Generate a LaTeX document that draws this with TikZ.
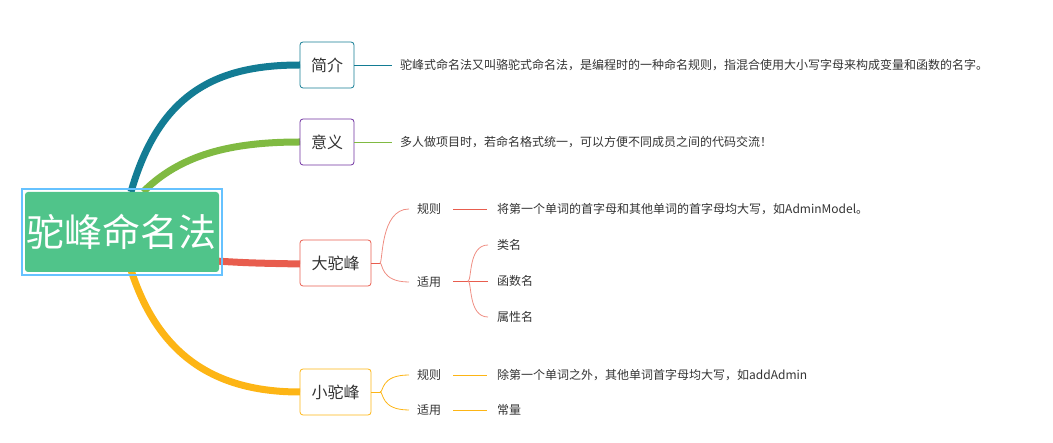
\documentclass[tikz,border=0pt]{standalone}
\usepackage{fontspec}
\setmainfont{Noto Sans CJK SC}
\definecolor{teal1}{HTML}{137C94}
\definecolor{grn}{HTML}{80BA42}
\definecolor{pur}{HTML}{6E2FA0}
\definecolor{red1}{HTML}{E85D4E}
\definecolor{yel}{HTML}{FDB515}
\definecolor{cgreen}{HTML}{50C48A}
\definecolor{txt}{HTML}{333333}
\begin{document}
\begin{tikzpicture}[x=1pt,y=-1pt,
  box/.style={draw,rounded corners=3pt,minimum height=46pt,font=\fontsize{16}{19}\selectfont,text=txt,line width=0.8pt,inner sep=0pt},
  lbl/.style={anchor=west,font=\fontsize{12}{14}\selectfont,text=txt,inner sep=0pt},
  thick1/.style={line width=7pt},
  thin1/.style={line width=0.8pt}]
\useasboundingbox (0,0) rectangle (1053,443);
% branches (behind)
\coordinate (c1) at (131,192);
\coordinate (c2) at (143,192);
\coordinate (c3) at (131,270);
\draw[thick1,teal1] (c1) .. controls (160,90) and (220,65) .. (300,65);
\draw[thick1,grn] (c2) .. controls (180,155) and (230,142) .. (300,142);
\draw[thick1,yel] (c3) .. controls (160,360) and (220,392) .. (300,392);
\draw[thick1,red1] (215,261) .. controls (250,263) .. (300,264);
% centre
\draw[blue!40!cyan!60,line width=1.2pt] (22,189) rectangle (222,275);
\node[fill=cgreen,rounded corners=3pt,minimum width=194pt,minimum height=80pt,text=white,font=\fontsize{38}{44}\selectfont,inner sep=0pt] (root) at (122,232) {驼峰命名法};
% level 1
\node[box,draw=teal1,minimum width=54pt] (jj) at (327,65) {简介};
\node[box,draw=pur,minimum width=54pt] (yy) at (327,142) {意义};
\node[box,draw=red1,minimum width=71pt] (dt) at (335.5,263) {大驼峰};
\node[box,draw=yel,minimum width=71pt] (xt) at (335.5,392) {小驼峰};
% 简介 / 意义
\node[lbl] (jjt) at (400,65) {驼峰式命名法又叫骆驼式命名法，是编程时的一种命名规则，指混合使用大小写字母来构成变量和函数的名字。};
\node[lbl] (yyt) at (400,142) {多人做项目时，若命名格式统一，可以方便不同成员之间的代码交流！};
\draw[thin1,teal1] (jj.east) -- (392,65);
\draw[thin1,grn] (yy.east) -- (392,142);
% 大驼峰
\node[lbl] (d1) at (417,209) {规则};
\node[lbl] (d2) at (417,282) {适用};
\coordinate (dj) at (380,263);
\draw[thin1,red1] (dt.east) -- (dj);
\draw[thin1,red1!70] (dj) .. controls (383,263) and (380,209) .. (409,209);
\draw[thin1,red1!70] (dj) .. controls (383,263) and (380,282) .. (409,282);
\node[lbl] (d1t) at (497,209) {将第一个单词的首字母和其他单词的首字母均大写，如AdminModel。};
\draw[thin1,red1] (453,209) -- (487,209);
\node[lbl] (e1) at (497,245) {类名};
\node[lbl] (e2) at (497,281) {函数名};
\node[lbl] (e3) at (497,317) {属性名};
\coordinate (ej) at (468,281);
\draw[thin1,red1] (453,281) -- (488,281);
\draw[thin1,red1!70] (ej) .. controls (472,281) and (468,245) .. (488,245);
\draw[thin1,red1!70] (ej) .. controls (472,281) and (468,317) .. (488,317);
% 小驼峰
\node[lbl] (x1) at (417,375) {规则};
\node[lbl] (x2) at (417,410) {适用};
\coordinate (xj) at (380,392);
\draw[thin1,yel] (xt.east) -- (xj);
\draw[thin1,yel] (xj) .. controls (384,392) and (380,375) .. (409,375);
\draw[thin1,yel] (xj) .. controls (384,392) and (380,410) .. (409,410);
\node[lbl] (x1t) at (497,375) {除第一个单词之外，其他单词首字母均大写，如addAdmin};
\node[lbl] (x2t) at (497,410) {常量};
\draw[thin1,yel] (453,375) -- (487,375);
\draw[thin1,yel] (453,410) -- (487,410);
\end{tikzpicture}
\end{document}
